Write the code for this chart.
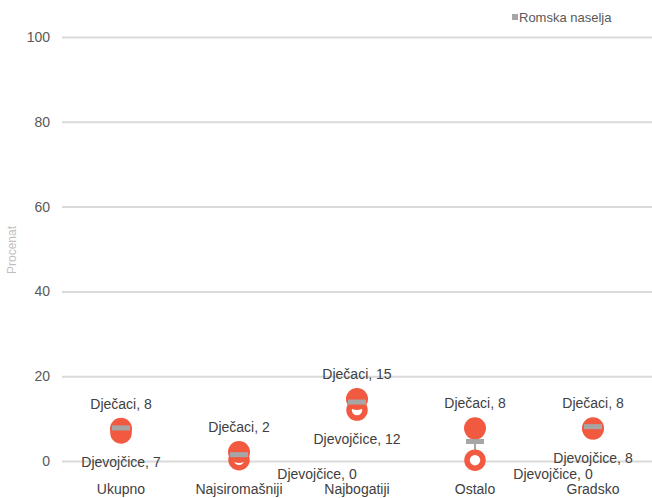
<!DOCTYPE html>
<html>
<head>
<meta charset="utf-8">
<script src="https://cdn.jsdelivr.net/npm/d3@7"></script>
<style>
  body { margin: 0; background: #fff; }
  text { font-family: "Liberation Sans", Arial, sans-serif; }
</style>
</head>
<body>
<div class="svg-container"></div>
<script>
// chart values
const categories = ["Ukupno", "Najsiromašniji", "Najbogatiji", "Ostalo", "Gradsko"];
const boys = [7.6, 2.1, 14.6, 7.7, 7.7];
const girls = [6.6, 0.3, 12.0, 0.2, 7.6];
const roma = [7.8, 1.5, 13.9, 4.6, 8.1];
const yTicks = [0, 20, 40, 60, 80, 100];

const width = 652;
const height = 498;
const margin = { top: 37, right: 0, bottom: 36.5, left: 62 };

const data = categories.map((c, i) => ({
  cat: c,
  boys: boys[i],
  girls: girls[i],
  roma: roma[i],
}));

const fmt = d3.format(".0f");
const red = "#f15a40";
const grey = "#a6a6a6";

const svg = d3
  .select(".svg-container")
  .append("svg")
  .attr("width", width)
  .attr("height", height);

// scales
const xScale = d3
  .scaleBand()
  .domain(categories)
  .range([margin.left, width - margin.right]);

const yScale = d3
  .scaleLinear()
  .domain([0, 100])
  .range([height - margin.bottom - 0.5, margin.top]);

const cx = (d) => xScale(d.cat) + xScale.bandwidth() / 2;

// y grid + tick labels
const yAxis = svg
  .append("g")
  .attr("transform", `translate(${margin.left},0)`)
  .call(
    d3
      .axisLeft(yScale)
      .tickValues(yTicks)
      .tickSize(-(width - margin.left - margin.right))
      .tickPadding(12)
  );
yAxis.select(".domain").remove();
yAxis.selectAll(".tick line").attr("stroke", "#d9d9d9").attr("stroke-width", 2);
yAxis
  .selectAll(".tick text")
  .attr("fill", "#595959")
  .attr("font-size", 14)
  .style("font-family", "Liberation Sans, Arial, sans-serif");

// y axis title
svg
  .append("text")
  .attr("transform", `translate(16,250) rotate(-90)`)
  .attr("text-anchor", "middle")
  .attr("fill", "#bfbfbf")
  .attr("font-size", 12)
  .text("Procenat");

// x category labels
svg
  .append("g")
  .selectAll("text")
  .data(data)
  .join("text")
  .attr("x", cx)
  .attr("y", 494)
  .attr("text-anchor", "middle")
  .attr("fill", "#404040")
  .attr("font-size", 14)
  .text((d) => d.cat);

// connector from girls to roma value
svg
  .append("g")
  .selectAll("line")
  .data(data)
  .join("line")
  .attr("x1", cx)
  .attr("x2", cx)
  .attr("y1", (d) => yScale(d.girls))
  .attr("y2", (d) => yScale(d.roma))
  .attr("stroke", grey)
  .attr("stroke-width", 2);

// girls: hollow rings
svg
  .append("g")
  .selectAll("circle")
  .data(data)
  .join("circle")
  .attr("cx", cx)
  .attr("cy", (d) => yScale(d.girls))
  .attr("r", 8)
  .attr("fill", "#fff")
  .attr("stroke", red)
  .attr("stroke-width", 5.5);

// boys: filled circles
svg
  .append("g")
  .selectAll("circle")
  .data(data)
  .join("circle")
  .attr("cx", cx)
  .attr("cy", (d) => yScale(d.boys))
  .attr("r", 11)
  .attr("fill", red);

// roma settlements: grey dash
svg
  .append("g")
  .selectAll("rect")
  .data(data)
  .join("rect")
  .attr("x", (d) => cx(d) - 9)
  .attr("y", (d) => yScale(d.roma) - 2.5)
  .attr("width", 18)
  .attr("height", 5)
  .attr("fill", grey);

// boys labels
svg
  .append("g")
  .selectAll("text")
  .data(data)
  .join("text")
  .attr("x", cx)
  .attr("y", (d) => yScale(d.boys) - 20)
  .attr("text-anchor", "middle")
  .attr("fill", "#404040")
  .attr("font-size", 14)
  .text((d) => `Dječaci, ${fmt(d.boys)}`);

// girls labels (zero values pushed to the lower right)
svg
  .append("g")
  .selectAll("text")
  .data(data)
  .join("text")
  .attr("x", (d) => (d.girls < 1 ? cx(d) + 78 : cx(d)))
  .attr("y", (d) => yScale(d.girls) + (d.girls < 1 ? 19 : 34))
  .attr("text-anchor", "middle")
  .attr("fill", "#404040")
  .attr("font-size", 14)
  .text((d) => `Djevojčice, ${fmt(d.girls)}`);

// legend
const legend = svg.append("g").attr("transform", "translate(512,17)");
legend
  .append("rect")
  .attr("x", 0)
  .attr("y", -3)
  .attr("width", 6)
  .attr("height", 6)
  .attr("fill", grey);
legend
  .append("text")
  .attr("x", 7)
  .attr("y", 5)
  .attr("fill", "#595959")
  .attr("font-size", 13)
  .text("Romska naselja");
</script>
</body>
</html>
